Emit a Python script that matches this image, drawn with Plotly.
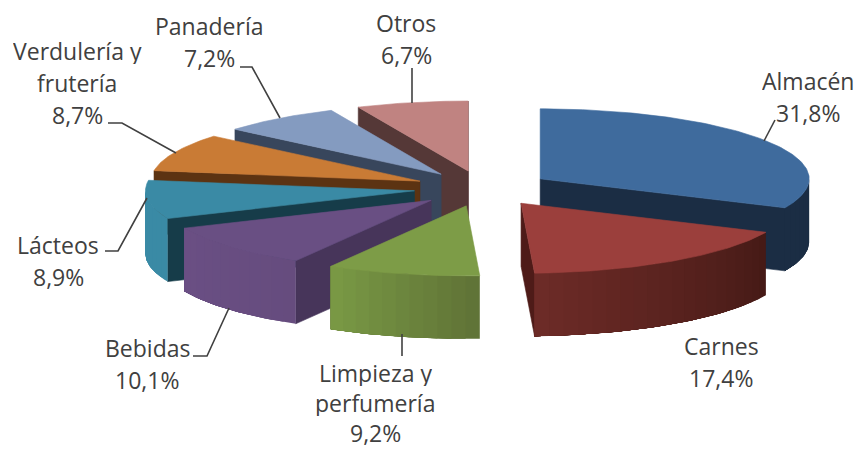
import math
import plotly.graph_objects as go

categories = ["Almacén", "Carnes", "Limpieza y<br>perfumería", "Bebidas", "Lácteos",
              "Verdulería y<br>frutería", "Panadería", "Otros"]
values = [31.8, 17.4, 9.2, 10.1, 8.9, 8.7, 7.2, 6.7]

top_colors = ["#3f6b9d", "#9b3f3c", "#7d9c47", "#694f83", "#3a8aa5", "#c97b35", "#849bc0", "#c08381"]
face_colors = ["#1b2d44", "#4e1b18", "#5f7236", "#47355a", "#163c49", "#5c3312", "#38465c", "#553837"]
wall_from = ["#1b2d44", "#6d2b27", "#7a9a45", "#6a4f84", "#3a8aa5", "#3a8aa5", "#849bc0", "#c08381"]
wall_to = ["#1b2d44", "#451a16", "#5f7236", "#664c7e", "#3a8aa5", "#3a8aa5", "#849bc0", "#c08381"]
draw_order = [7, 6, 5, 4, 3, 2, 0, 1]

# label placement: centre of the text block and line step, in pixels
label_pos = [(808, 97), (721, 362), (375, 403), (147, 364), (58, 261), (77, 83), (209, 42), (406, 39)]
label_step = [32, 32, 30, 32, 32, 32, 32, 32]
leaders = [
    [(764, 141), (775, 120)],
    None,
    [(402, 334), (402, 356)],
    [(193, 356), (207, 356), (229, 308)],
    [(105, 251), (118, 251), (147, 198)],
    [(108, 123), (122, 123), (176, 153)],
    [(240, 67), (252, 67), (280, 118)],
    [(412, 68), (412, 103)],
]

CX, CY, RX, RY, DEPTH, EXPLODE = 482.5, 188.5, 269, 70, 63, 0.255
W, H = 859, 449
FONT = "Open Sans"
FONT_SIZE = 23
BOX_HEIGHT = 26
TEXT = "#404040"


def rim(deg):
    r = math.radians(deg)
    return RX * math.sin(r), -RY * math.cos(r)


def mix(a, b, t):
    pa = [int(a[i:i + 2], 16) for i in (1, 3, 5)]
    pb = [int(b[i:i + 2], 16) for i in (1, 3, 5)]
    return "rgb(%d,%d,%d)" % tuple(round(p + (q - p) * t) for p, q in zip(pa, pb))


fig = go.Figure()


def poly(pts, color, width=0.6):
    fig.add_trace(go.Scatter(
        x=[p[0] for p in pts] + [pts[0][0]], y=[p[1] for p in pts] + [pts[0][1]],
        mode="lines", fill="toself", fillcolor=color,
        line=dict(color=color, width=width), hoverinfo="skip", showlegend=False))


total = sum(values)
edges = [0.0]
for v in values:
    edges.append(edges[-1] + v / total * 360)

for i in draw_order:
    a0, a1 = edges[i], edges[i + 1]
    mid = (a0 + a1) / 2
    mx, my = rim(mid)
    ax, ay = CX + EXPLODE * mx, CY + EXPLODE * my

    # radial cut faces that turn towards the viewer
    for edge, normal in ((a0, a0 - 90), (a1, a1 + 90)):
        if math.cos(math.radians(normal)) < 0:
            ex, ey = rim(edge)
            poly([(ax, ay), (ax + ex, ay + ey), (ax + ex, ay + ey + DEPTH), (ax, ay + DEPTH)], face_colors[i])

    # outer curved wall: overlapping bands, each covering the rest of the wall, to shade it
    w0, w1 = max(a0, 90), min(a1, 270)
    if w1 > w0:
        bands = max(2, int((w1 - w0) / 3))
        for s in range(bands):
            b0 = w0 + (w1 - w0) * s / bands
            m = max(2, int(w1 - b0) + 1)
            arc = [rim(b0 + (w1 - b0) * k / m) for k in range(m + 1)]
            t = (s + 0.5) / bands
            upper = [(ax + p[0], ay + p[1]) for p in arc]
            lower = [(ax + p[0], ay + p[1] + DEPTH) for p in reversed(arc)]
            poly(upper + lower, mix(wall_from[i], wall_to[i], 1 - t), width=0)

    # top face
    n = max(8, int(a1 - a0))
    arc = [rim(a0 + (a1 - a0) * k / n) for k in range(n + 1)]
    poly([(ax, ay)] + [(ax + p[0], ay + p[1]) for p in arc], top_colors[i])

annotations = []
for name, val, pos, step, lead in zip(categories, values, label_pos, label_step, leaders):
    lines = name.split("<br>") + [f"{val:.1f}%".replace(".", ",")]
    for k, line in enumerate(lines):
        annotations.append(dict(
            x=pos[0], y=pos[1] + (k - (len(lines) - 1) / 2) * step, xref="x", yref="y",
            text=line, showarrow=False, xanchor="center", yanchor="middle", height=BOX_HEIGHT,
            font=dict(family=FONT, size=FONT_SIZE, color=TEXT)))
    if lead:
        fig.add_trace(go.Scatter(
            x=[p[0] for p in lead], y=[p[1] for p in lead], mode="lines",
            line=dict(color="#404040", width=1.6), hoverinfo="skip", showlegend=False))

fig.update_layout(
    width=W, height=H, margin=dict(l=0, r=0, t=0, b=0),
    paper_bgcolor="white", plot_bgcolor="white", annotations=annotations,
    xaxis=dict(range=[0, W], visible=False, fixedrange=True),
    yaxis=dict(range=[H, 0], visible=False, fixedrange=True))
fig.write_html("out.html", config=dict(displayModeBar=False),
               post_script="document.body.style.margin='0';")
